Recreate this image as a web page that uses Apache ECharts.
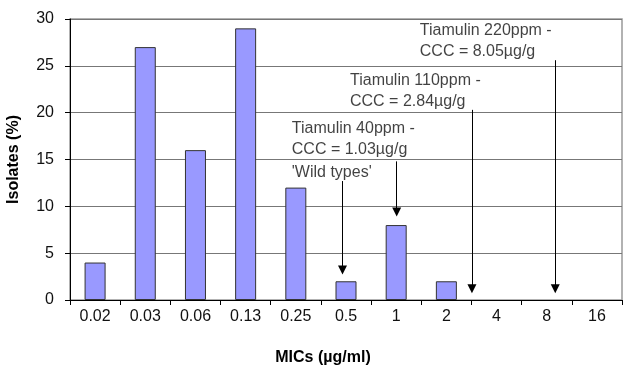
<!DOCTYPE html>
<html>
<head>
<meta charset="utf-8">
<script src="https://cdn.jsdelivr.net/npm/echarts@6/dist/echarts.min.js"></script>
<style>html,body{margin:0;padding:0;background:#fff}#c{width:627px;height:369px}</style>
</head>
<body>
<div id="c"></div>
<script>
// Data
var categories = ['0.02','0.03','0.06','0.13','0.25','0.5','1','2','4','8','16'];
var isolates = [4, 27, 16, 29, 12, 2, 8, 2, 0, 0, 0];
var yTicks = { min: 0, max: 30, interval: 5 };
// Annotation arrows in a continuous category-index coordinate (0..11): [x, yStart, yEnd]
var arrowX = [5.43, 6.51, 8.01, 9.67];
var arrowYStart = [12.7, 14.8, 20.3, 25.6];
var arrowYEnd = [3.2, 9.4, 1.2, 1.2];
// Annotation texts: left-anchored at [x, y]
var noteText = ["'Wild types'", 'Tiamulin 40ppm -\nCCC = 1.03µg/g', 'Tiamulin 110ppm -\nCCC = 2.84µg/g', 'Tiamulin 220ppm -\nCCC = 8.05µg/g'];
var noteX = [4.42, 4.42, 5.58, 6.97];
var noteY = [13.6, 17.15, 22.3, 27.6];

var FONT = 'Liberation Sans, Arial, sans-serif';
var chart = echarts.init(document.getElementById('c'), null, { renderer: 'canvas' });
var arrowData = arrowX.map(function (x, i) {
  return { coords: [[x, arrowYStart[i]], [x, arrowYEnd[i]]] };
});
var noteData = noteText.map(function (t, i) {
  return { value: [noteX[i], noteY[i]], text: t };
});
var barData = isolates.map(function (v) {
  return v === 0 ? { value: v, itemStyle: { borderWidth: 0 } } : v;
});
chart.setOption({
  animation: false,
  backgroundColor: '#fff',
  grid: { left: 70, right: 5, top: 19, bottom: 69, outerBoundsMode: 'none', containLabel: false, show: true, borderColor: '#999', borderWidth: 1.5, backgroundColor: '#fff' },
  xAxis: [{
    type: 'category',
    data: categories,
    name: 'MICs (µg/ml)',
    nameLocation: 'middle',
    nameGap: 50,
    nameTextStyle: { fontFamily: FONT, fontWeight: 'bold', fontSize: 16, color: '#000', padding: [0, 46, 0, 0] },
    axisLine: { lineStyle: { color: '#000', width: 1 } },
    axisTick: { show: true, inside: false, length: 5, lineStyle: { color: '#000' } },
    axisLabel: { fontFamily: FONT, fontSize: 16, color: '#111', margin: 9 },
    splitLine: { show: false }
  }, {
    type: 'value', min: 0, max: 11, show: false
  }],
  yAxis: {
    type: 'value',
    min: yTicks.min, max: yTicks.max, interval: yTicks.interval,
    name: 'Isolates (%)',
    nameLocation: 'middle',
    nameGap: 48,
    nameRotate: 90,
    nameTextStyle: { fontFamily: FONT, fontWeight: 'bold', fontSize: 16, color: '#000' },
    axisLine: { show: true, lineStyle: { color: '#000', width: 1 } },
    axisTick: { show: true, inside: false, length: 5, lineStyle: { color: '#000' } },
    axisLabel: { fontFamily: FONT, fontSize: 16, color: '#111', margin: 16 },
    splitLine: { show: true, lineStyle: { color: '#777', width: 1 } }
  },
  series: [{
    type: 'bar',
    xAxisIndex: 0,
    data: barData,
    barWidth: 21,
    itemStyle: { color: '#9999ff', borderColor: '#333', borderWidth: 1 }
  }, {
    type: 'lines',
    coordinateSystem: 'cartesian2d',
    xAxisIndex: 1,
    yAxisIndex: 0,
    data: arrowData,
    symbol: ['none', 'triangle'],
    symbolSize: 9,
    lineStyle: { color: '#000', width: 1, opacity: 1 },
    z: 5
  }, {
    type: 'scatter',
    xAxisIndex: 1,
    yAxisIndex: 0,
    data: noteData,
    symbolSize: 0,
    label: {
      show: true,
      position: 'right',
      distance: 0,
      fontFamily: FONT,
      fontSize: 16,
      lineHeight: 21,
      color: '#111',
      formatter: function (p) { return p.data.text; }
    },
    z: 6
  }]
});
</script>
</body>
</html>
